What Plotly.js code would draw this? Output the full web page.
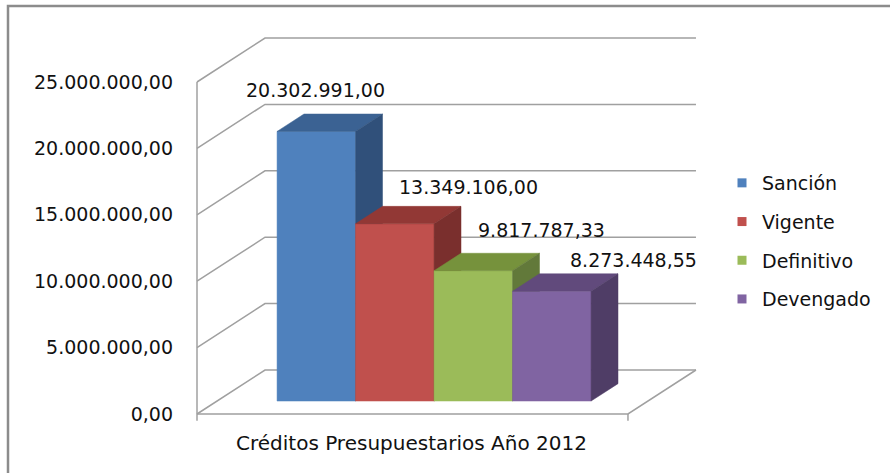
<!DOCTYPE html>
<html>
<head>
<meta charset="utf-8">
<script src="https://cdn.plot.ly/plotly-3.0.1.min.js"></script>
<style>html,body{margin:0;padding:0;background:#fff;}#chart{width:890px;height:473px;}</style>
</head>
<body>
<div id="chart"></div>
<script>
// ---- data ----
const categories = ['Créditos Presupuestarios Año 2012'];
const seriesNames = ['Sanción', 'Vigente', 'Definitivo', 'Devengado'];
const values = [20302991.00, 13349106.00, 9817787.33, 8273448.55];
const valueLabels = ['20.302.991,00', '13.349.106,00', '9.817.787,33', '8.273.448,55'];
const tickVals = [0, 5000000, 10000000, 15000000, 20000000, 25000000];
const tickLabels = ['0,00', '5.000.000,00', '10.000.000,00', '15.000.000,00', '20.000.000,00', '25.000.000,00'];

// ---- styling / geometry ----
const frontColors = ['#4F81BD', '#C0504D', '#9BBB59', '#8064A2'];
const topColors   = ['#3B6293', '#923835', '#76923C', '#614A7C'];
const sideColors  = ['#30507A', '#7A2F2D', '#62793A', '#4F3D66'];
const gridColor = '#A0A0A0';
const FONT = 'DejaVu Sans';
const FS = 19;
const TEXT = '#111';

const W = 890, H = 473;
const mL = 188, mR = 178, mT = 30, mB = 43;
const PW = W - mL - mR, PH = H - mT - mB;
const pxPerX = 78.5;            // px per category-slot unit
const pxPerY = 13.28 / 1e6;     // px per value unit
const X_L = -1.02;              // left edge of floor (front)
const X_R = 4.47;               // right edge of floor (front)
const xMin = X_L - 9 / pxPerX;
const xMax = xMin + PW / pxPerX;
const yMin = -16 / pxPerY;
const yMax = yMin + PH / pxPerY;
const DX = 68 / pxPerX;         // full depth offset (x units)
const DY = 44 / pxPerY;         // full depth offset (value units)
const tF = 0.294, tB = 0.69;    // bar front/back depth fractions
const fy = tF * DY;
const dx = (tB - tF) * DX, dy = (tB - tF) * DY;
const yMaxAxis = tickVals[tickVals.length - 1];

const traces = [];
const line = (xs, ys, w) => ({type: 'scatter', mode: 'lines', x: xs, y: ys,
  line: {color: gridColor, width: w || 1.5}, hoverinfo: 'skip', showlegend: false});

// wall gridlines (left wall + back wall)
tickVals.forEach(v => {
  traces.push(line([X_L, X_L + DX, X_R + DX], [v, v + DY, v + DY]));
});
// floor front and right edge
traces.push(line([X_L, X_R, X_R + DX], [0, 0, DY]));
// vertical value axis + category axis ticks
traces.push(line([X_L, X_L], [-0.5e6, yMaxAxis]));
traces.push(line([X_R, X_R], [-0.5e6, 0]));

// 3D bars (front, top, side)
values.forEach((v, i) => {
  const x0 = i, x1 = i + 1;
  const b = fy, t = fy + v;
  const poly = (xs, ys, c) => ({type: 'scatter', mode: 'lines', x: xs, y: ys, fill: 'toself',
    fillcolor: c, line: {color: c, width: 0.5}, hoverinfo: 'skip', showlegend: false});
  traces.push(poly([x0, x1, x1, x0, x0], [b, b, t, t, b], frontColors[i]));
  traces.push(poly([x0, x1, x1 + dx, x0 + dx, x0], [t, t, t + dy, t + dy, t], topColors[i]));
  traces.push(poly([x1, x1 + dx, x1 + dx, x1, x1], [b, b + dy, t + dy, t, b], sideColors[i]));
});

// legend entries
seriesNames.forEach((n, i) => {
  traces.push({type: 'scatter', mode: 'markers', x: [null], y: [null], name: n,
    legendgroup: 'g' + i, marker: {symbol: 'square', size: 9, color: frontColors[i]}});
});

// value labels (offsets are styling)
const labelShiftX = [-1, 74, 68, 82];
const labelShiftY = [41, 37, 41, 31];
const annotations = values.map((v, i) => ({
  x: i + 0.5, y: fy + v, xref: 'x', yref: 'y', text: valueLabels[i], showarrow: false,
  xshift: labelShiftX[i], yshift: labelShiftY[i], xanchor: 'center', yanchor: 'middle',
  font: {family: FONT, size: FS, color: TEXT}
}));
annotations.push({x: (X_L + X_R) / 2, y: 0, xref: 'x', yref: 'y', text: categories[0],
  showarrow: false, yshift: -29, xshift: -1, xanchor: 'center', yanchor: 'middle',
  font: {family: FONT, size: 20, color: TEXT}});

const legendLeftPx = 722, legendTopPx = 164;

const layout = {
  width: W, height: H,
  margin: {l: mL, r: mR, t: mT, b: mB, pad: 0},
  paper_bgcolor: '#fff', plot_bgcolor: 'rgba(0,0,0,0)',
  font: {family: FONT, size: FS, color: TEXT},
  showlegend: true,
  legend: {x: (legendLeftPx - mL) / PW, y: 1 - (legendTopPx - mT) / PH,
    xanchor: 'left', yanchor: 'top', tracegroupgap: 11,
    font: {family: FONT, size: FS, color: TEXT}, bgcolor: 'rgba(0,0,0,0)'},
  xaxis: {range: [xMin, xMax], showgrid: false, zeroline: false, showticklabels: false,
    ticks: '', showline: false, fixedrange: true},
  yaxis: {range: [yMin, yMax], showgrid: false, zeroline: false, showline: false,
    tickmode: 'array', tickvals: tickVals, ticktext: tickLabels, ticks: '',
    ticklabelstandoff: 14, tickfont: {family: FONT, size: FS, color: TEXT}, fixedrange: true},
  annotations: annotations,
  shapes: [{type: 'rect', xref: 'paper', yref: 'paper',
    x0: (8 - mL) / PW, x1: 2, y0: -1, y1: (H - mB - 6) / PH,
    line: {color: '#8C8C8C', width: 2.5}, fillcolor: 'rgba(0,0,0,0)', layer: 'below'}]
};

Plotly.newPlot('chart', traces, layout, {displayModeBar: false, staticPlot: true});
</script>
</body>
</html>
